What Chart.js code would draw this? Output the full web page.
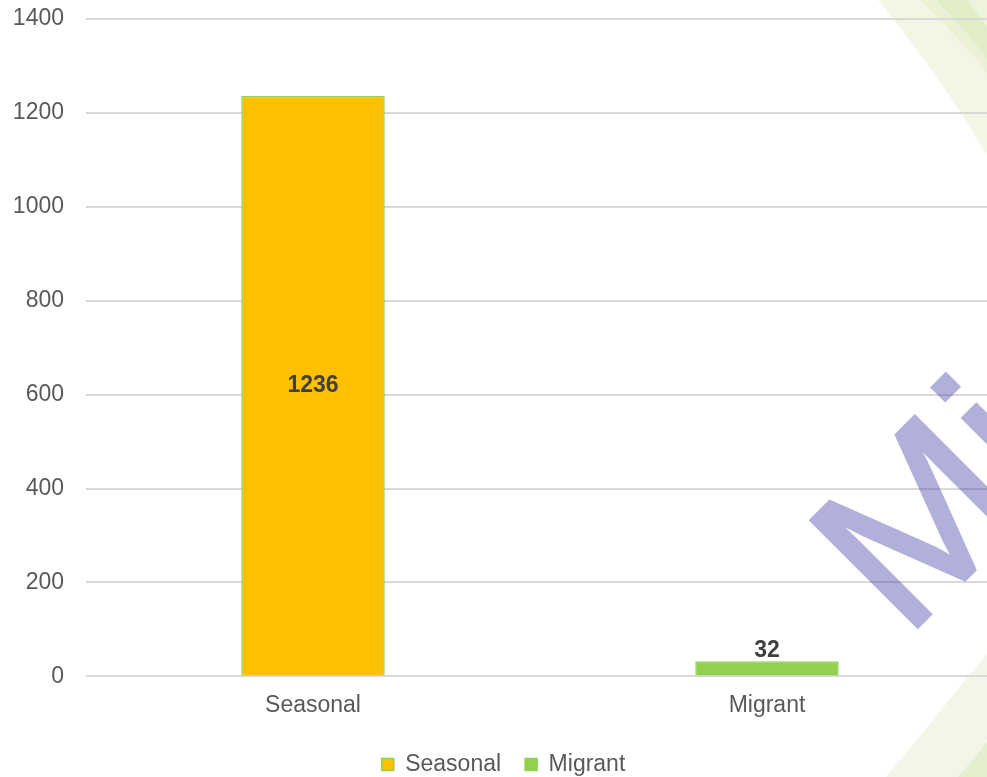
<!DOCTYPE html>
<html>
<head>
<meta charset="utf-8">
<script src="https://cdn.jsdelivr.net/npm/chart.js@4.4.1/dist/chart.umd.min.js"></script>
<style>
  html, body { margin: 0; padding: 0; background: #ffffff; overflow: hidden; }
  #wrap { width: 994px; height: 777px; position: relative; }
</style>
</head>
<body>
<div id="wrap"><canvas id="chart" width="994" height="777"></canvas></div>
<script>
// Worker categories and their counts
const categories = ['Seasonal', 'Migrant'];
const values = [1236, 32];
const yTickValues = [0, 200, 400, 600, 800, 1000, 1200, 1400];
const fillColors = ['#FFC000', '#92D050'];
const edgeColors = ['#92D050', '#92D050'];
const labelPlacement = ['center', 'end'];
const watermarkText = 'Mi';

const FONT = "'Liberation Sans', Arial, sans-serif";

// Soft green ribbons in the right-hand corners, painted behind everything
const ribbonPlugin = {
  id: 'ribbons',
  beforeDraw(chart) {
    const ctx = chart.ctx;
    const W = chart.width;
    const H = chart.height;
    ctx.save();
    ctx.fillStyle = '#ffffff';
    ctx.fillRect(0, 0, W, H);
    const band = (color, path) => {
      ctx.beginPath();
      path();
      ctx.closePath();
      ctx.fillStyle = color;
      ctx.fill();
    };
    // top-right corner
    band('#F2F6E5', () => {
      ctx.moveTo(878, 0);
      ctx.quadraticCurveTo(942, 78, 990, 160);
      ctx.lineTo(W, 160); ctx.lineTo(W, 0);
    });
    band('#EAF1D7', () => {
      ctx.moveTo(920, 0);
      ctx.quadraticCurveTo(958, 36, 990, 76);
      ctx.lineTo(W, 76); ctx.lineTo(W, 0);
    });
    band('#E2ECC7', () => {
      ctx.moveTo(936, 0);
      ctx.quadraticCurveTo(964, 28, 990, 62);
      ctx.lineTo(W, 62); ctx.lineTo(W, 0);
    });
    band('#EDF3DD', () => {
      ctx.moveTo(966, 0);
      ctx.quadraticCurveTo(978, 14, 990, 32);
      ctx.lineTo(W, 32); ctx.lineTo(W, 0);
    });
    // bottom-right corner
    band('#F3F6E7', () => {
      ctx.moveTo(886, H);
      ctx.quadraticCurveTo(940, 712, 990, 650);
      ctx.lineTo(W, 650); ctx.lineTo(W, H);
    });
    band('#E6EED0', () => {
      ctx.moveTo(958, H);
      ctx.quadraticCurveTo(975, 758, 990, 738);
      ctx.lineTo(W, 738); ctx.lineTo(W, H);
    });
    ctx.restore();
  }
};

// Value labels: centred inside a bar or sitting just above it
const valueLabelPlugin = {
  id: 'valueLabels',
  afterDatasetsDraw(chart) {
    const ctx = chart.ctx;
    const meta = chart.getDatasetMeta(0);
    ctx.save();
    ctx.font = 'bold 23px ' + FONT;
    ctx.fillStyle = '#404040';
    ctx.textAlign = 'center';
    meta.data.forEach((bar, i) => {
      const v = values[i];
      if (labelPlacement[i] === 'center') {
        ctx.textBaseline = 'middle';
        ctx.fillText(String(v), bar.x, (bar.y + bar.base) / 2);
      } else {
        ctx.textBaseline = 'bottom';
        ctx.fillText(String(v), bar.x, bar.y + 1);
      }
    });
    ctx.restore();
  }
};

// Faint diagonal watermark lettering, composited as one translucent layer
const watermarkPlugin = {
  id: 'watermark',
  afterDraw(chart) {
    const ctx = chart.ctx;
    const layer = document.createElement('canvas');
    layer.width = chart.width;
    layer.height = chart.height;
    const lc = layer.getContext('2d');
    lc.translate(905, 640);
    lc.rotate(-Math.PI / 4);
    lc.font = '220px ' + FONT;
    lc.fillStyle = 'rgb(60, 60, 165)';
    lc.strokeStyle = 'rgb(60, 60, 165)';
    lc.lineWidth = 3;
    lc.textAlign = 'left';
    lc.textBaseline = 'alphabetic';
    lc.fillText(watermarkText, 0, 0);
    lc.strokeText(watermarkText, 0, 0);
    ctx.save();
    ctx.setTransform(1, 0, 0, 1, 0, 0);
    ctx.globalAlpha = 0.4;
    ctx.drawImage(layer, 0, 0);
    ctx.restore();
  }
};

new Chart(document.getElementById('chart'), {
  type: 'bar',
  data: {
    labels: categories,
    datasets: [{
      label: 'Workers',
      data: values,
      backgroundColor: fillColors,
      borderColor: edgeColors,
      borderWidth: 1.5,
      categoryPercentage: 1,
      barPercentage: 0.316
    }]
  },
  options: {
    responsive: false,
    animation: false,
    layout: { padding: { left: 13, top: 19, right: 0, bottom: -9 } },
    scales: {
      x: {
        grid: { display: false },
        border: { display: false },
        ticks: {
          color: '#595959',
          font: { family: FONT, size: 23 },
          padding: 7
        },
        afterFit(scale) {
          scale.height += 3;
        }
      },
      y: {
        min: 0,
        max: 1400,
        afterBuildTicks(scale) {
          scale.ticks = yTickValues.map(v => ({ value: v }));
        },
        afterFit(scale) {
          scale.width = 73;
          scale.paddingTop = 0;
          scale.paddingBottom = 0;
        },
        grid: { color: '#D9D9D9', lineWidth: 2, drawTicks: false },
        border: { display: false },
        ticks: {
          color: '#595959',
          font: { family: FONT, size: 23 },
          padding: 22,
          callback: (v) => String(v)
        }
      }
    },
    plugins: {
      tooltip: { enabled: false },
      legend: {
        position: 'bottom',
        labels: {
          color: '#595959',
          font: { family: FONT, size: 23 },
          boxWidth: 12,
          boxHeight: 12,
          padding: 24,
          generateLabels() {
            return categories.map((name, i) => ({
              text: name,
              fillStyle: fillColors[i],
              strokeStyle: edgeColors[i],
              lineWidth: 1.5,
              fontColor: '#595959',
              hidden: false,
              index: i
            }));
          }
        }
      }
    }
  },
  plugins: [ribbonPlugin, valueLabelPlugin, watermarkPlugin]
});
</script>
</body>
</html>
